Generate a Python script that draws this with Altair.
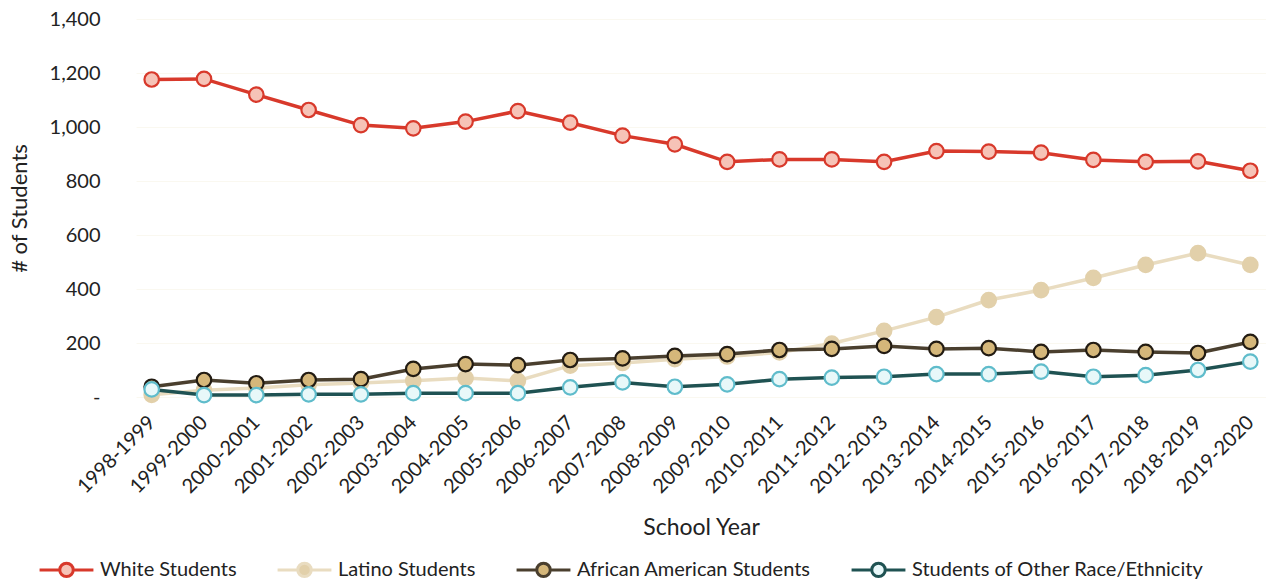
import altair as alt
import pandas as pd

years = ["1998-1999", "1999-2000", "2000-2001", "2001-2002", "2002-2003", "2003-2004",
         "2004-2005", "2005-2006", "2006-2007", "2007-2008", "2008-2009", "2009-2010",
         "2010-2011", "2011-2012", "2012-2013", "2013-2014", "2014-2015", "2015-2016",
         "2016-2017", "2017-2018", "2018-2019", "2019-2020"]

white = [1176, 1178, 1120, 1063, 1007, 995, 1020, 1059, 1016, 968, 936, 871,
         880, 880, 871, 911, 909, 905, 878, 871, 873, 838]
latino = [8, 25, 33, 45, 52, 60, 70, 60, 116, 126, 140, 150,
          165, 198, 245, 296, 359, 396, 441, 489, 533, 489]
african_american = [38, 63, 51, 63, 66, 104, 122, 118, 137, 143, 152, 159,
                    174, 178, 189, 178, 181, 167, 174, 167, 163, 204]
other = [28, 7, 7, 10, 10, 14, 14, 14, 36, 54, 38, 47,
         66, 72, 75, 85, 85, 94, 75, 81, 100, 131]

series_names = ["White Students", "Latino Students", "African American Students",
                "Students of Other Race/Ethnicity"]
series_values = [white, latino, african_american, other]

line_colors = ["#d8392b", "#e9dcc0", "#4a3f2e", "#1f5252"]
fill_colors = ["#f6c3b7", "#e2d0aa", "#d5b77a", "#e8f8f9"]
outline_colors = ["#d8392b", "#e2d0aa", "#221b12", "#5fbccb"]
line_widths = [3.5, 3.5, 3.5, 3.5]

rows = []
for name, vals in zip(series_names, series_values):
    for y, v in zip(years, vals):
        rows.append({"year": y, "series": name, "students": v})
df = pd.DataFrame(rows)

FONT = "Lato"
TEXT = "#222222"

x_enc = alt.X("year:N", sort=years,
              scale=alt.Scale(type="point", padding=0.3),
              axis=alt.Axis(labelAngle=-45, labelAlign="right", labelBaseline="middle",
                            labelFontSize=20, labelFont=FONT, labelColor=TEXT,
                            labelPadding=22, ticks=False, domain=False, grid=False,
                            title="School Year", titleFontSize=23, titleFont=FONT,
                            titleColor=TEXT, titleFontWeight="normal",
                            titleY=130, titleBaseline="middle"))
y_enc = alt.Y("students:Q",
              scale=alt.Scale(domain=[0, 1400], nice=False),
              axis=alt.Axis(values=[0, 200, 400, 600, 800, 1000, 1200, 1400],
                            labelExpr="datum.value == 0 ? '-' : format(datum.value, ',')",
                            labelFontSize=20, labelFont=FONT, labelColor=TEXT,
                            labelPadding=36, ticks=False, domain=False,
                            grid=True, gridColor="#faf8f0", gridWidth=1,
                            title="# of Students", titleFontSize=22, titleFont=FONT,
                            titleColor=TEXT, titleFontWeight="normal",
                            titleX=-117, titleY=189, titleAngle=-90,
                            titleAlign="center", titleBaseline="middle"))

color_enc = alt.Color("series:N", scale=alt.Scale(domain=series_names, range=line_colors),
                      legend=alt.Legend(title=None))
fill_enc = alt.Fill("series:N", scale=alt.Scale(domain=series_names, range=fill_colors),
                    legend=alt.Legend(title=None))
stroke_enc = alt.Stroke("series:N", scale=alt.Scale(domain=series_names, range=outline_colors),
                        legend=None)

base = alt.Chart(df)
layers = []
for name, lw in zip(series_names, line_widths):
    sub = base.transform_filter(alt.datum.series == name)
    layers.append(sub.mark_line(strokeWidth=lw).encode(x=x_enc, y=y_enc, color=color_enc))
    layers.append(sub.mark_point(shape="circle", filled=True, size=210, strokeWidth=2.2,
                                 opacity=1).encode(x=x_enc, y=y_enc, fill=fill_enc,
                                                   stroke=stroke_enc))

SYMBOL = ("M-1,0L-0.27,0M0.27,0L1,0"
          "M-0.25,0A0.25,0.25,0,1,1,0.25,0A0.25,0.25,0,1,1,-0.25,0Z")

chart = alt.layer(*layers).properties(
    width=1130, height=378,
    autosize=alt.AutoSizeParams(type="none"),
    padding={"left": 136, "top": 19, "right": 0, "bottom": 185},
    background="white",
).configure_view(stroke=None).configure_legend(
    orient="none", direction="horizontal", legendX=-98, legendY=522,
    symbolType=SYMBOL, symbolSize=2900, symbolStrokeWidth=3,
    labelFontSize=20, labelFont=FONT, labelColor=TEXT, labelOffset=5,
    labelLimit=1000, columnPadding=34, titleFontSize=0,
)

chart.save("out.html", embed_options={"renderer": "svg", "actions": False})
